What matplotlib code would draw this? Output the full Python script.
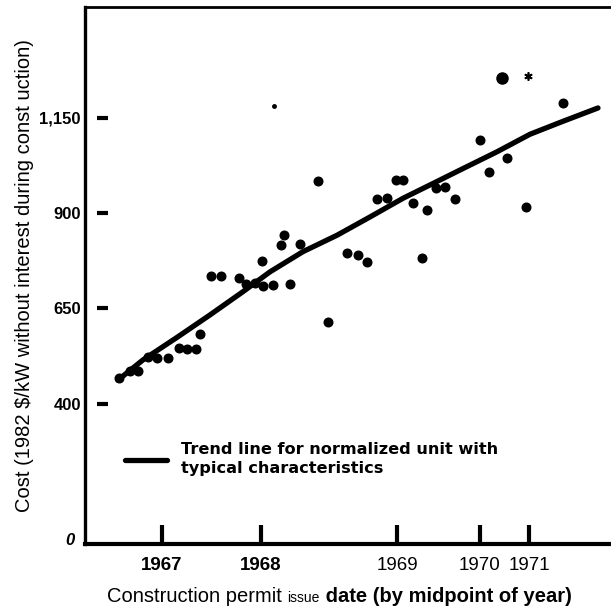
import matplotlib

matplotlib.use("Agg")
import matplotlib.pyplot as plt

plt.rcParams["font.family"] = ["Liberation Sans", "DejaVu Sans"]

# horizontal position along the (uneven) permit-date axis, cost in 1982 $/kW
plant_x = [34, 45, 53, 63, 72, 83, 94, 102, 111, 115, 126, 136, 154, 161, 170,
           177, 178, 188, 196, 199, 205, 215, 233, 243, 262, 273, 282, 292, 302,
           311, 318, 328, 337, 342, 351, 360, 370, 395, 404, 422, 441, 478]
plant_y = [467, 486, 486, 522, 520, 520, 546, 543, 543, 583, 735, 735, 730, 714,
           717, 774, 709, 711, 816, 842, 714, 819, 984, 614, 795, 790, 772, 937,
           940, 987, 987, 926, 782, 908, 966, 968, 937, 1092, 1008, 1044, 916, 1189]

big_x, big_y = [417], [1254]
small_x, small_y = [189], [1181]
star_x, star_y = [443], [1260]

trend_x = [33, 58, 92, 125, 158, 185, 218, 252, 285, 318, 345, 378, 412, 445, 478, 513]
trend_y = [462, 515, 574, 633, 694, 746, 799, 842, 890, 939, 974, 1017, 1061, 1107,
           1141, 1176]

year_pos = [77, 176, 312, 395, 444]
year_labels = ["1967", "1968", "1969", "1970", "1971"]
year_bold = [True, True, False, False, False]

cost_ticks = [400, 650, 900, 1150]
cost_labels = ["400", "650", "900", "1,150"]

fig = plt.figure(figsize=(6.11, 6.15), dpi=100)
ax = fig.add_axes([0.1391, 0.1161, 0.8609, 0.8732])

trend, = ax.plot(trend_x, trend_y, color="black", lw=3.8, solid_capstyle="round",
                 solid_joinstyle="round",
                 label="Trend line for normalized unit with\ntypical characteristics")
ax.plot(plant_x, plant_y, "o", color="black", ms=6.2)
ax.plot(big_x, big_y, "o", color="black", ms=8)
ax.plot(small_x, small_y, "o", color="black", ms=2.5)
ax.plot(star_x, star_y, marker=(6, 2, 0), color="black", ms=6, mew=1.2, ls="none")

ax.set_xlim(0, 526)
ax.set_ylim(33, 1442)

# spines
ax.spines["right"].set_visible(False)
ax.spines["left"].set_linewidth(2.4)
ax.spines["bottom"].set_linewidth(3)
ax.spines["top"].set_linewidth(2)

# x ticks: thick marks standing on the axis
ax.set_xticks(year_pos)
ax.set_xticklabels(year_labels, fontsize=13.5)
for lab, b in zip(ax.get_xticklabels(), year_bold):
    lab.set_fontweight("bold" if b else "normal")
ax.tick_params(axis="x", direction="in", length=14, width=3, pad=10)

# y ticks: detached dashes inside the frame
ax.set_yticks(cost_ticks)
ax.set_yticklabels(cost_labels, fontsize=12, fontweight="bold")
ax.tick_params(axis="y", length=0, pad=3)
ax.hlines(cost_ticks, 0.022, 0.044, color="black", lw=3,
          transform=ax.get_yaxis_transform())
ax.text(-0.02, 0.006, "0", transform=ax.transAxes, ha="right", va="center",
        fontsize=12, fontstyle="italic", fontweight="bold")

ax.set_ylabel("Cost (1982 $/kW without interest during const uction)", fontsize=14.5,
              labelpad=4)

leg = ax.legend(handles=[trend], loc="center left", bbox_to_anchor=(0.076, 0.157),
                frameon=False, borderpad=0, borderaxespad=0, handlelength=2.6,
                handletextpad=0.85,
                prop={"family": "DejaVu Sans", "weight": "bold", "size": 11.6})
leg.get_texts()[0].set_linespacing(1.3)

# x axis title made of three differently styled pieces
pieces = [("Construction permit ", 14.5, "normal"), ("issue", 10, "normal"),
          (" date (by midpoint of year)", 14.5, "bold")]
renderer = fig.canvas.get_renderer()
x0 = 107 / 611
for txt, size, weight in pieces:
    t = fig.text(x0, 0.021, txt, fontsize=size, fontweight=weight,
                 ha="left", va="baseline")
    bb = t.get_window_extent(renderer=renderer)
    x0 += bb.width / fig.bbox.width

fig.savefig("out.png", dpi=100)
